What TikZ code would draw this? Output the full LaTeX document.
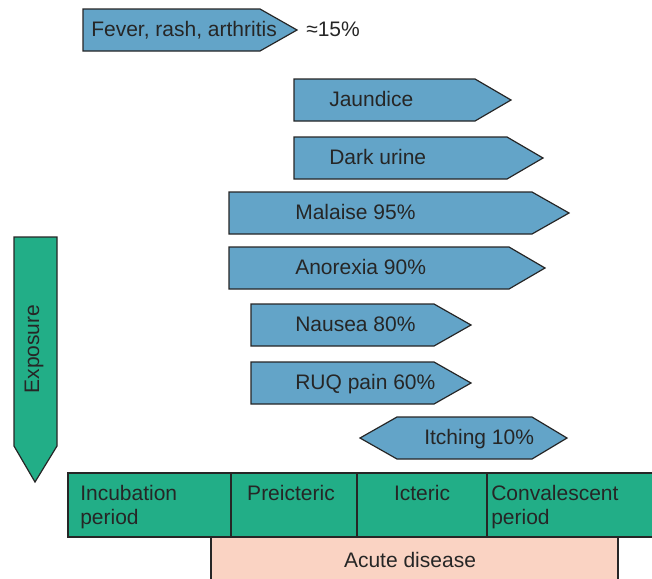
\documentclass[tikz,border=0pt]{standalone}
\usepackage{fontspec}
\setmainfont{Liberation Sans}
\definecolor{symblue}{RGB}{99,164,200}
\definecolor{phasegreen}{RGB}{34,174,135}
\definecolor{acutepink}{RGB}{250,211,195}
\definecolor{inkgray}{RGB}{38,38,38}
\begin{document}
\begin{tikzpicture}[x=0.75pt, y=-0.75pt,
    symptom/.style={draw=inkgray, line width=0.9pt, fill=symblue},
    phase/.style={draw=inkgray, line width=0.9pt, fill=phasegreen},
    acute/.style={draw=inkgray, line width=0.9pt, fill=acutepink},
    txt/.style={inner sep=0pt, text=inkgray, font=\fontsize{15.75}{18}\selectfont},
    txtw/.style={txt, anchor=base west, align=left}
]
\useasboundingbox (0,0) rectangle (652,578);

% Symptoms
\foreach \n/\l/\e/\t/\y/\x/\s in {
    fever/83/260/297/30/91/{Fever, rash, arthritis},
    jaundice/294/475/511/100/329/Jaundice,
    urine/294/507/543/158/329/Dark urine,
    malaise/229/532/569/213/295/Malaise 95\%,
    anorexia/229/509/545/268/295/Anorexia 90\%,
    nausea/251/434/471/325/295/Nausea 80\%,
    ruq/251/434/471/383/295/RUQ pain 60\%}{
  \filldraw[symptom] (\l,\y-21) -- (\e,\y-21) -- (\t,\y) -- (\e,\y+21) -- (\l,\y+21) -- cycle;
  \node[txtw] (\n) at (\x,\y+6) {\s};
}
\node[txtw] (feverpct) at (306,36) {≈15\%};
\filldraw[symptom] (360,438) -- (397,417) -- (532,417) -- (567,438) -- (532,459) -- (397,459) -- cycle;
\node[txtw] (itching) at (424,444) {Itching 10\%};

% Exposure
\filldraw[phase] (14,237) -- (57,237) -- (57,446) -- (35,482) -- (14,446) -- cycle;
\node[txt, anchor=base, rotate=90] (exposure) at (39,349) {Exposure};

% Phases
\filldraw[acute] (211,537) rectangle (618,590);
\filldraw[phase] (68,473) rectangle (231,537);
\filldraw[phase] (231,473) rectangle (357,537);
\filldraw[phase] (357,473) rectangle (487,537);
\filldraw[phase] (487,473) rectangle (665,537);
\node[txtw] (incubation) at (80,524) {Incubation\\period};
\node[txt, anchor=base] (preicteric) at (291,500) {Preicteric};
\node[txt, anchor=base] (icteric) at (422,500) {Icteric};
\node[txtw] (convalescent) at (491,524) {Convalescent\\period};
\node[txt, anchor=base] (acutedis) at (410,567) {Acute disease};
\end{tikzpicture}
\end{document}
